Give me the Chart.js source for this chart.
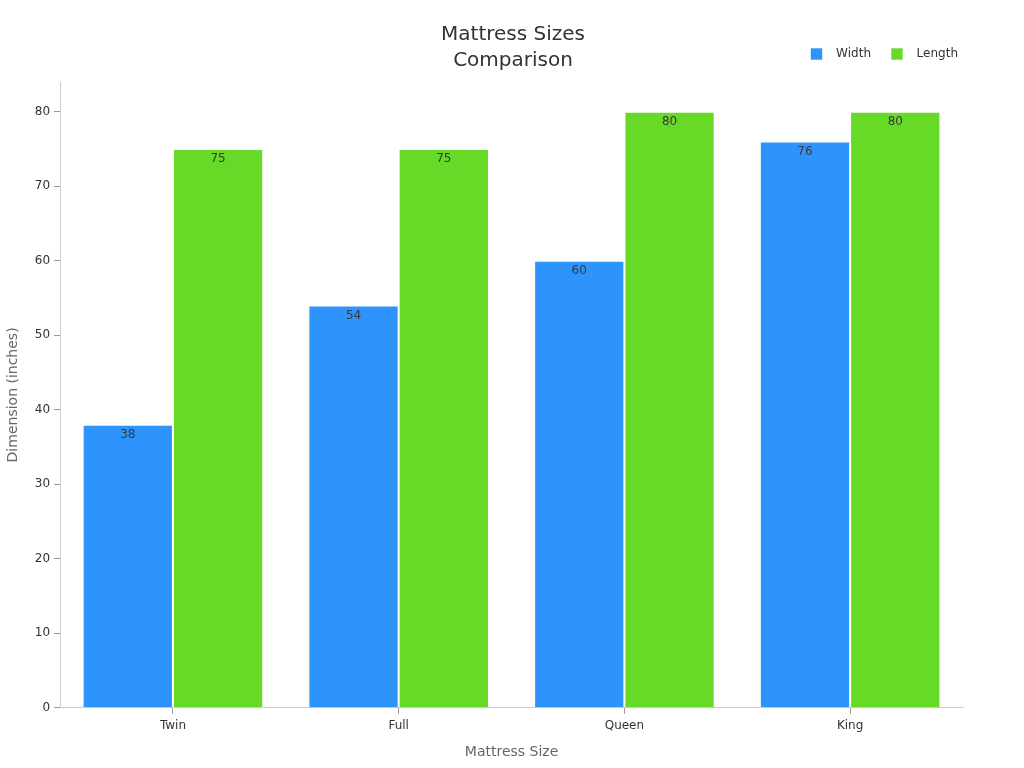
<!DOCTYPE html>
<html>
<head>
<meta charset="utf-8">
<script src="https://cdn.jsdelivr.net/npm/chart.js@4"></script>
<style>
  html, body { margin: 0; padding: 0; background: #fff; }
  #wrap { width: 1024px; height: 768px; }
</style>
</head>
<body>
<div id="wrap"><canvas id="sizeChart"></canvas></div>
<script>
const sizes = ["Twin", "Full", "Queen", "King"];
const widthInches = [38, 54, 60, 76];
const lengthInches = [75, 75, 80, 80];

Chart.defaults.font.family = "'DejaVu Sans', sans-serif";
Chart.defaults.color = "#333";

// values drawn inside the top of each bar
const barValues = {
  id: 'barValues',
  afterLayout(chart) {
    // legend sits a bit closer to the right edge than chart.js puts it
    chart.legend.left += 15;
    chart.legend.right += 15;
  },
  afterDatasetsDraw(chart) {
    const ctx = chart.ctx;
    ctx.save();
    ctx.font = "12px 'DejaVu Sans', sans-serif";
    ctx.fillStyle = "#3a3a3a";
    ctx.textAlign = "center";
    ctx.textBaseline = "middle";
    chart.data.datasets.forEach((ds, i) => {
      chart.getDatasetMeta(i).data.forEach((bar, j) => {
        ctx.fillText(ds.data[j], bar.x, bar.y + 10);
      });
    });
    ctx.restore();
  }
};

// empty axes only used to reserve space
const spacer = (size, horizontal) => ({
  type: 'linear',
  position: horizontal ? 'top' : 'right',
  grid: { display: false },
  border: { display: false },
  ticks: { display: false },
  afterFit(scale) {
    if (horizontal) scale.height = size; else scale.width = size;
  }
});

new Chart(document.getElementById("sizeChart"), {
  type: 'bar',
  data: {
    labels: sizes,
    datasets: [
      {
        label: "Width",
        data: widthInches,
        backgroundColor: "#2E93FA",
        borderColor: "rgba(255,255,255,0.6)",
        borderWidth: 1
      },
      {
        label: "Length",
        data: lengthInches,
        backgroundColor: "#66DA26",
        borderColor: "rgba(255,255,255,0.6)",
        borderWidth: 1
      }
    ]
  },
  plugins: [barValues],
  options: {
    responsive: true,
    maintainAspectRatio: false,
    animation: false,
    layout: { padding: { left: 2, right: 0, top: 0, bottom: 7 } },
    datasets: {
      bar: { categoryPercentage: 0.8, barPercentage: 1.0 }
    },
    plugins: {
      title: {
        display: true,
        text: ["Mattress Sizes", "Comparison"],
        color: "#333",
        font: { size: 20, weight: 'normal', lineHeight: 1.3 },
        padding: { top: 22, bottom: -46 }
      },
      legend: {
        position: 'top',
        align: 'end',
        fullSize: false,
        labels: {
          boxWidth: 12,
          boxHeight: 12,
          padding: 20,
          color: "#333",
          font: { size: 12 },
          generateLabels(chart) {
            const items = Chart.defaults.plugins.legend.labels.generateLabels(chart);
            items.forEach(it => { it.text = "  " + it.text; });
            return items;
          }
        }
      },
      tooltip: { enabled: false }
    },
    scales: {
      x: {
        grid: { display: true, offset: false, drawOnChartArea: false, tickLength: 6, tickColor: "#999" },
        border: { display: true, color: "#ccc" },
        ticks: { color: "#333", font: { size: 12 }, padding: 5 },
        title: {
          display: true,
          text: "Mattress Size",
          color: "#666",
          font: { size: 14 },
          padding: { top: 6, bottom: 0 }
        }
      },
      y: {
        min: 0,
        max: 84,
        grid: { display: true, drawOnChartArea: false, tickLength: 6, tickColor: "#999" },
        border: { display: true, color: "#ccc" },
        ticks: { stepSize: 10, color: "#333", font: { size: 12 }, padding: 4 },
        afterBuildTicks(axis) {
          axis.ticks = axis.ticks.filter(t => t.value % 10 === 0);
        },
        title: {
          display: true,
          text: "Dimension (inches)",
          color: "#666",
          font: { size: 14 },
          padding: { top: 3, bottom: 9 }
        }
      },
      padTop: spacer(12, true),
      padRight: spacer(61, false)
    }
  }
});
</script>
</body>
</html>
